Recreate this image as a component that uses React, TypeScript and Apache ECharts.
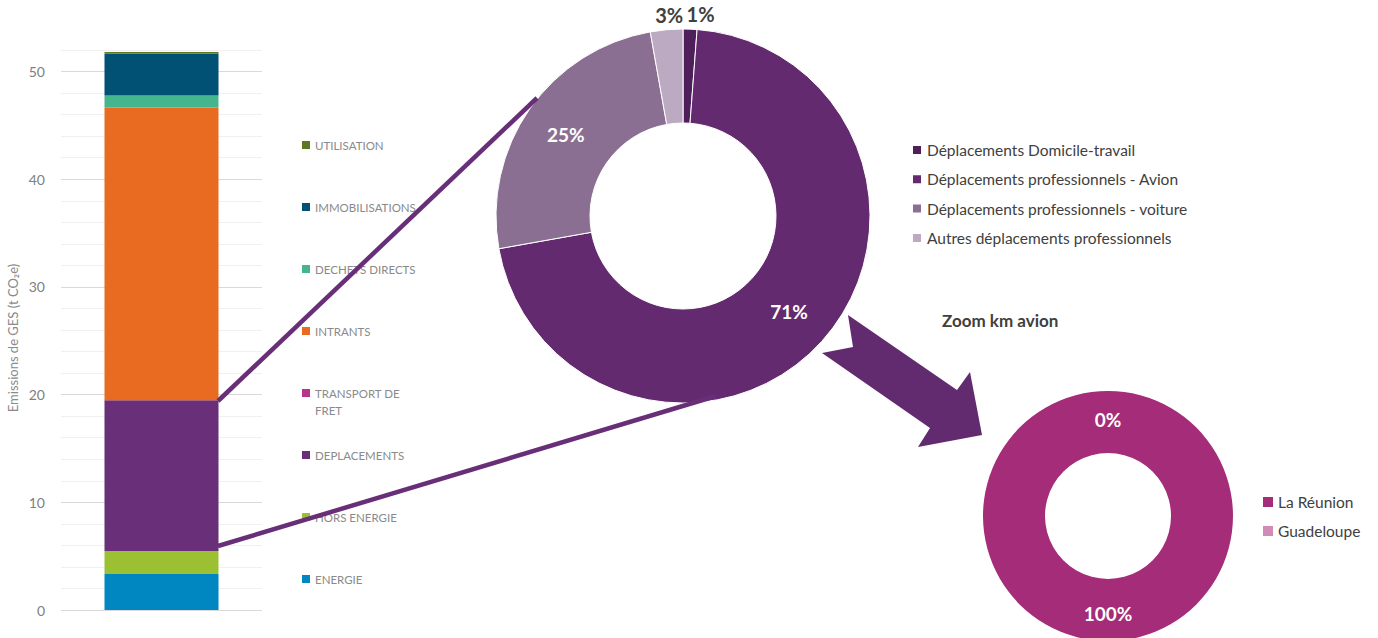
import React, { useEffect, useRef } from "react";
import * as echarts from "echarts";

// Stacked bar (bottom to top)
const barNames = [
  "ENERGIE",
  "HORS ENERGIE",
  "DEPLACEMENTS",
  "TRANSPORT DE FRET",
  "INTRANTS",
  "DECHETS DIRECTS",
  "IMMOBILISATIONS",
  "UTILISATION",
];
const barValues = [3.35, 2.12, 14.0, 0, 27.2, 1.1, 3.9, 0.15];
const barColors = ["#0086C1", "#9BC132", "#692F78", "#B8348A", "#E96A21", "#44B58D", "#005174", "#5F7A1E"];
const barCategory = ["Total"];

// Déplacements donut
const depNames = [
  "Déplacements Domicile-travail",
  "Déplacements professionnels - Avion",
  "Déplacements professionnels - voiture",
  "Autres déplacements professionnels",
];
const depValues = [1.2, 71, 25, 2.8];
const depColors = ["#4E1F5A", "#632A6F", "#8B6F93", "#BCAAC2"];

// Zoom km avion donut
const avionNames = ["La Réunion", "Guadeloupe"];
const avionValues = [100, 0];
const avionColors = ["#A42C79", "#D18BB6"];

const yTicks = [0, 10, 20, 30, 40, 50];

export default function App() {
  const ref = useRef<HTMLDivElement>(null);
  useEffect(() => {
    document.body.style.margin = "0";
    const chart = echarts.init(ref.current!, null, { renderer: "svg" });
    const font = "Lato";

    const barLegends = barNames.map((name, i) => {
      const j = barNames.length - 1 - i;
      const c = 145 + j * 62;
      const multi = name === "TRANSPORT DE FRET";
      return {
        data: [name],
        orient: "vertical",
        left: 302,
        top: multi ? c - 25.5 : c - 8.5,
        padding: 0,
        itemWidth: 8,
        itemHeight: 8,
        icon: "rect",
        formatter: (n: string) => (n === "TRANSPORT DE FRET" ? "\nTRANSPORT DE\nFRET" : n),
        textStyle: {
          fontFamily: font,
          fontSize: 11.5,
          color: "#8A8A8A",
          lineHeight: 17,
        },
      };
    });

    const barSeries = barNames.map((name, i) => ({
      type: "bar",
      name,
      stack: "total",
      barWidth: 114,
      data: [barValues[i]],
      itemStyle: { color: barColors[i] },
      xAxisIndex: 0,
      yAxisIndex: 0,
    }));

    const pctFmt = (p: any) => Math.round(p.percent) + "%";

    const option: any = {
      animation: false,
      title: {
        text: "Zoom km avion",
        left: 942,
        top: 312,
        padding: 0,
        textStyle: { fontFamily: font, fontSize: 17, fontWeight: "bold", color: "#404040" },
      },
      grid: { left: 61, top: 50, width: 201, height: 560 },
      xAxis: {
        type: "category",
        data: barCategory,
        axisLine: { show: false },
        axisTick: { show: false },
        axisLabel: { show: false },
      },
      yAxis: {
        type: "value",
        min: 0,
        max: 52,
        interval: 2,
        name: "Emissions de GES (t CO₂e)",
        nameLocation: "middle",
        nameGap: 42,
        nameTextStyle: { fontFamily: font, fontSize: 13, color: "#8A8A8A", padding: [0, 16, 0, 0] },
        axisLine: { show: false },
        axisTick: { show: false },
        axisLabel: {
          fontFamily: font,
          fontSize: 14,
          color: "#808080",
          margin: 16,
          formatter: (v: number) => (yTicks.includes(v) ? String(v) : ""),
        },
        splitLine: {
          lineStyle: { color: ["#D9D9D9", "#F0F0F0", "#F0F0F0", "#F0F0F0", "#F0F0F0"], width: 1 },
        },
      },
      legend: [
        ...barLegends,
        {
          data: depNames,
          orient: "vertical",
          left: 911,
          top: 140,
          padding: 0,
          itemGap: 9.3,
          itemWidth: 10,
          itemHeight: 10,
          icon: "rect",
          textStyle: { fontFamily: font, fontSize: 15.5, color: "#404040", lineHeight: 20 },
        },
        {
          data: avionNames,
          orient: "vertical",
          left: 1263,
          top: 492,
          padding: 0,
          itemGap: 9,
          itemWidth: 10,
          itemHeight: 10,
          icon: "rect",
          textStyle: { fontFamily: font, fontSize: 15.5, color: "#404040", lineHeight: 20 },
        },
      ],
      series: [
        ...barSeries,
        {
          type: "pie",
          name: "Déplacements",
          center: [683, 216],
          radius: [93, 187],
          startAngle: 90,
          clockwise: true,
          avoidLabelOverlap: false,
          itemStyle: { borderColor: "#fff", borderWidth: 1 },
          label: {
            show: true,
            position: "inside",
            formatter: pctFmt,
            fontFamily: font,
            fontSize: 19,
            fontWeight: "bold",
            color: "#fff",
          },
          labelLine: { show: false },
          labelLayout: (p: any) => {
            if (p.dataIndex === 3) return { dx: 18 };
            if (p.dataIndex === 0) return { dx: -4 };
            return {};
          },
          data: depNames.map((name, i) => {
            const small = depValues[i] < 5;
            return {
              name,
              value: depValues[i],
              itemStyle: { color: depColors[i] },
              label: small
                ? { position: "outside", color: "#404040", fontSize: 20, distanceToLabelLine: 0 }
                : undefined,
              labelLine: small ? { show: false, length: 15, length2: 0 } : undefined,
            };
          }),
        },
        {
          type: "pie",
          name: "Zoom km avion",
          center: [1108, 516],
          radius: [63, 125],
          startAngle: 90,
          clockwise: true,
          avoidLabelOverlap: false,
          stillShowZeroSum: true,
          label: {
            show: true,
            position: "inside",
            formatter: pctFmt,
            fontFamily: font,
            fontSize: 19,
            fontWeight: "bold",
            color: "#fff",
          },
          labelLine: { show: false },
          data: avionNames.map((name, i) => ({
            name,
            value: avionValues[i],
            itemStyle: { color: avionColors[i] },
          })),
        },
      ],
      graphic: [
        {
          type: "line",
          z: 5,
          shape: { x1: 218, y1: 401, x2: 537, y2: 98 },
          style: { stroke: "#682F78", lineWidth: 4.5 },
        },
        {
          type: "line",
          z: 5,
          shape: { x1: 218, y1: 546, x2: 716, y2: 396 },
          style: { stroke: "#682F78", lineWidth: 4.5 },
        },
        {
          type: "polygon",
          z: 5,
          shape: {
            points: [
              [848, 315],
              [957, 390],
              [970, 372],
              [982, 435],
              [918, 447],
              [930, 428],
              [822, 353],
              [853, 347],
            ],
          },
          style: { fill: "#622A6F" },
        },
      ],
    };
    chart.setOption(option);
    return () => chart.dispose();
  }, []);
  return <div ref={ref} style={{ width: 1378, height: 638 }} />;
}
